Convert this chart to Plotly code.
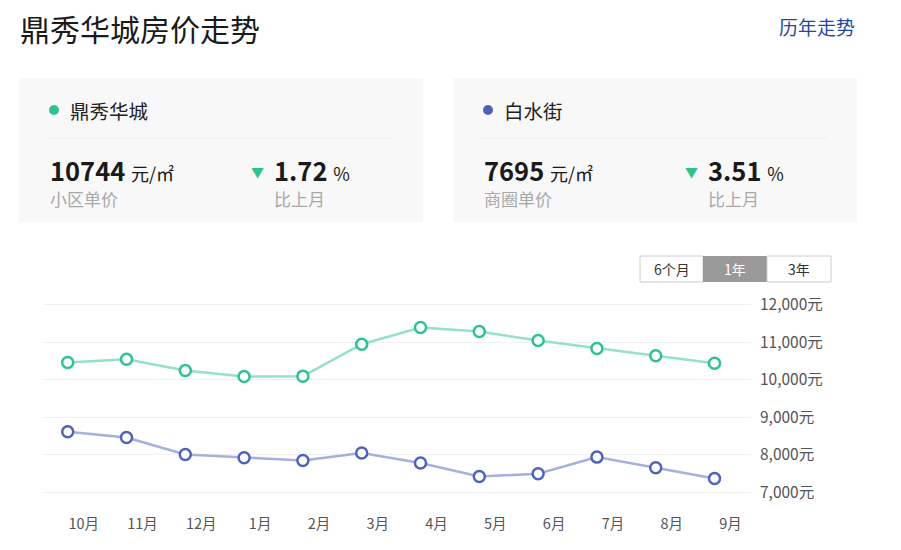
import plotly.graph_objects as go

# monthly average price, yuan per square metre
months = ["10月", "11月", "12月", "1月", "2月", "3月", "4月", "5月", "6月", "7月", "8月", "9月"]
estate_prices = [10460, 10550, 10247, 10087, 10097, 10950, 11395, 11288, 11047, 10834, 10640, 10444]
district_prices = [8611, 8459, 8005, 7917, 7846, 8042, 7775, 7418, 7490, 7935, 7650, 7364]
y_ticks = [7000, 8000, 9000, 10000, 11000, 12000]

estate_name = "鼎秀华城"
district_name = "白水街"
estate_unit_price = "10744"
district_unit_price = "7695"
estate_change = "1.72"
district_change = "3.51"
range_buttons = ["6个月", "1年", "3年"]

GREEN = "#2ec28c"
GREEN_LINE = "#93e2c3"
BLUE = "#4d63b9"
BLUE_LINE = "#a4b0dd"
FONT = "Noto Sans CJK SC"

W, H = 901, 550
L, R, T, B = 43, 150, 303, 56
PW, PH = W - L - R, H - T - B


def px(x):
    return (x - L) / PW


def py(y):
    return (H - B - y) / PH


fig = go.Figure()
xs = list(range(len(months)))
fig.add_trace(go.Scatter(
    x=xs, y=district_prices, mode="lines+markers", name=district_name,
    line=dict(color=BLUE_LINE, width=2.5),
    marker=dict(size=11, color="white", line=dict(color=BLUE, width=2.5)),
    cliponaxis=False))
fig.add_trace(go.Scatter(
    x=xs, y=estate_prices, mode="lines+markers", name=estate_name,
    line=dict(color=GREEN_LINE, width=2.5),
    marker=dict(size=11, color="white", line=dict(color=GREEN, width=2.5)),
    cliponaxis=False))

shapes = []
ann = []


def text(x, y, s, size, color="#222", anchor="left", bold=False):
    if bold:
        s = "<b>" + s + "</b>"
    ann.append(dict(x=px(x), y=py(y), xref="paper", yref="paper", text=s,
                    showarrow=False, xanchor=anchor, yanchor="middle",
                    font=dict(family=FONT, size=size, color=color)))


def rect(x0, y0, x1, y1, fill, line=None):
    shapes.append(dict(type="rect", xref="paper", yref="paper",
                       x0=px(x0), x1=px(x1), y0=py(y1), y1=py(y0),
                       fillcolor=fill, layer="below",
                       line=dict(width=1 if line else 0, color=line or fill)))


text(18, 28, "鼎秀华城房价走势", 30, "#1a1a1a")
text(857, 26, "历年走势", 19, "#1d48a8", anchor="right")

cards = [
    (19, estate_name, GREEN, estate_unit_price, "小区单价", estate_change),
    (453, district_name, BLUE, district_unit_price, "商圈单价", district_change),
]
for x0, name, dot, price, label, change in cards:
    rect(x0, 78, x0 + 404, 222, "#f8f8f8")
    shapes.append(dict(type="line", xref="paper", yref="paper",
                       x0=px(x0 + 29), x1=px(x0 + 374), y0=py(138), y1=py(138),
                       line=dict(color="#ececec", width=1)))
    shapes.append(dict(type="circle", xref="paper", yref="paper",
                       x0=px(x0 + 30), x1=px(x0 + 40), y0=py(115), y1=py(105),
                       fillcolor=dot, line=dict(width=0)))
    text(x0 + 49, 110, name, 19.5, "#222")
    text(x0 + 29, 169, price + " <span style='font-size:18px;font-weight:normal'>元/㎡</span>", 25.5, "#1a1a1a", bold=True)
    text(x0 + 29, 198.5, label, 17, "#a8a8a8")
    text(x0 + 230, 171, "▼", 13, GREEN)
    text(x0 + 253, 169, "<b>" + change + "</b> <span style='font-size:18px'>%</span>", 25.5, "#1a1a1a")
    text(x0 + 253, 198.5, "比上月", 17, "#a8a8a8")

bx = [640, 703, 767, 831]
for i, b in enumerate(range_buttons):
    active = i == 1
    rect(bx[i], 256, bx[i + 1], 282, "#999999" if active else "white", None if active else "#cccccc")
    text((bx[i] + bx[i + 1]) / 2, 269, b, 14, "white" if active else "#333", anchor="center")

fig.update_layout(
    width=W, height=H,
    margin=dict(l=L, r=R, t=T, b=B),
    paper_bgcolor="white", plot_bgcolor="white",
    showlegend=False,
    shapes=shapes, annotations=ann,
    font=dict(family=FONT, color="#555"),
    xaxis=dict(range=[-0.42, 11.62], tickvals=xs, ticktext=months,
               showgrid=False, zeroline=False, showline=False,
               ticks="", ticklabelshift=16, ticklabelstandoff=19,
               tickfont=dict(size=14.5, color="#555")),
    yaxis=dict(range=[6950, 12050], side="right", tickvals=y_ticks,
               ticktext=[f"{v:,}元" for v in y_ticks],
               showgrid=True, gridcolor="#f1f1f1",
               zeroline=False, showline=False, ticks="", ticklabelstandoff=8,
               tickfont=dict(size=15.5, color="#555")),
)

fig.write_html("out.html", config={"displayModeBar": False},
               post_script="document.body.style.margin='0';")
